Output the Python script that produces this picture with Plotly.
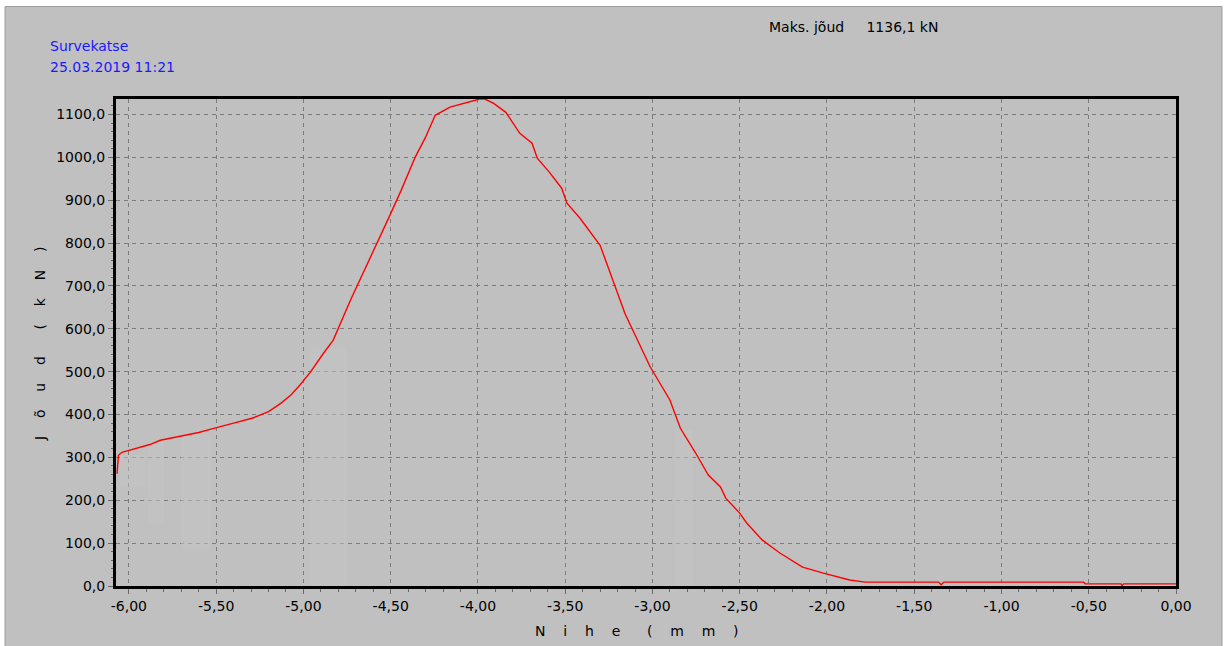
import plotly.graph_objects as go

# ---- data ----
nihe_mm = [-6.068, -6.065, -6.06, -6.04, -5.99, -5.94, -5.88, -5.82, -5.75, -5.69,
           -5.60, -5.53, -5.46, -5.40, -5.29, -5.20, -5.13, -5.07, -5.02, -4.96,
           -4.885, -4.83, -4.73, -4.62, -4.51, -4.44, -4.36, -4.30, -4.245, -4.16,
           -4.085, -4.03, -3.99, -3.96, -3.91, -3.84, -3.76, -3.69, -3.66, -3.59,
           -3.52, -3.49, -3.415, -3.30, -3.157, -3.014, -2.90, -2.84, -2.755, -2.68,
           -2.61, -2.58, -2.50, -2.46, -2.37, -2.27, -2.14, -2.02, -1.93, -1.87,
           -1.78, -1.36, -1.346, -1.33, -0.53, -0.52, -0.315, -0.309, -0.30, 0.0]
joud_kN = [262, 290, 305, 312, 318, 324, 330, 340, 346, 352,
           358, 366, 373, 380, 392, 407, 426, 446, 469, 499,
           543, 573, 667, 762, 860, 923, 1000, 1047, 1098, 1117,
           1126, 1131, 1136.1, 1136.1, 1126, 1105, 1056, 1033, 998, 965,
           928, 893, 858, 795, 635, 512, 434, 368, 312, 259,
           231, 205, 170, 147, 107, 77, 44, 30, 21, 14,
           9, 9, 3, 9, 9, 5, 5, 1, 5, 5]

# faint grey residue bands visible in the plot area
band_from = [-6.05, -5.89, -5.70, -4.96, -2.87]
band_to = [-5.90, -5.80, -5.53, -4.75, -2.77]
band_top = [305, 335, 355, 560, 365]
band_bottom = [230, 150, 85, 0, 0]

x_tickvals = [-6.0, -5.5, -5.0, -4.5, -4.0, -3.5, -3.0, -2.5, -2.0, -1.5, -1.0, -0.5, 0.0]
x_ticktext = ["-6,00", "-5,50", "-5,00", "-4,50", "-4,00", "-3,50", "-3,00",
              "-2,50", "-2,00", "-1,50", "-1,00", "-0,50", "0,00"]
y_tickvals = [0, 100, 200, 300, 400, 500, 600, 700, 800, 900, 1000, 1100]
y_ticktext = ["0,0", "100,0", "200,0", "300,0", "400,0", "500,0", "600,0",
              "700,0", "800,0", "900,0", "1000,0", "1100,0"]

max_force = 1136.1

FONT = "DejaVu Sans"
NB = "\u00a0"

fig = go.Figure()

fig.add_trace(go.Bar(
    x=[(a + b) / 2 for a, b in zip(band_from, band_to)],
    width=[b - a for a, b in zip(band_from, band_to)],
    y=[t - b for t, b in zip(band_top, band_bottom)],
    base=band_bottom,
    marker=dict(color="rgba(196,196,196,0.5)", line=dict(width=0)),
    hoverinfo="skip", showlegend=False,
))

fig.add_trace(go.Scatter(
    x=nihe_mm, y=joud_kN, mode="lines",
    line=dict(color="#ff0000", width=1.4),
    showlegend=False,
))

axis_common = dict(
    showline=True, linecolor="black", linewidth=3, mirror=True,
    showgrid=True, gridcolor="#7c7c7c", gridwidth=1, griddash="4px,4px",
    zeroline=False, ticks="outside", ticklen=5, tickcolor="#6a6a6a", tickwidth=1,
    tickfont=dict(family=FONT, size=14, color="black"),
    layer="below traces",
)

fig.update_xaxes(
    range=[-6.074, 0.0], tickmode="array", tickvals=x_tickvals, ticktext=x_ticktext,
    minor=dict(tickmode="linear", tick0=0, dtick=0.1, ticks="outside", ticklen=3,
               tickcolor="#6a6a6a", showgrid=False),
    **axis_common,
)
fig.update_yaxes(
    range=[0, max_force], tickmode="array", tickvals=y_tickvals, ticktext=y_ticktext,
    minor=dict(tickmode="linear", tick0=0, dtick=20, ticks="outside", ticklen=2,
               tickcolor="#6a6a6a", showgrid=False),
    **axis_common,
)

L, R, T, B = 116, 49, 99, 60
W, H = 1225, 646
pw, ph = W - L - R, H - T - B


def px_x(p):
    return (p - L) / pw


def px_y(p):
    return (H - B - p) / ph


fig.add_shape(type="rect", xref="paper", yref="paper",
              x0=px_x(5), x1=px_x(1222), y0=px_y(650), y1=px_y(6.5),
              fillcolor="#c0c0c0", line=dict(color="#9c9c9c", width=1), layer="below")

fig.add_annotation(xref="paper", yref="paper", x=px_x(48), y=px_y(46),
                   xanchor="left", yanchor="middle", showarrow=False,
                   text="Survekatse", font=dict(family=FONT, size=14, color="#1a1aff"))
fig.add_annotation(xref="paper", yref="paper", x=px_x(48), y=px_y(67),
                   xanchor="left", yanchor="middle", showarrow=False,
                   text="25.03.2019 11:21", font=dict(family=FONT, size=14, color="#1a1aff"))
fig.add_annotation(xref="paper", yref="paper", x=px_x(767), y=px_y(27),
                   xanchor="left", yanchor="middle", showarrow=False,
                   text="Maks. jõud" + NB * 5 + "1136,1 kN",
                   font=dict(family=FONT, size=14, color="black"))

sp = NB * 4
wsp = NB * 6
xtitle = sp.join("Nihe") + wsp + sp.join("(mm)")
ytitle = sp.join("Jõud") + wsp + sp.join("(kN)")
fig.add_annotation(xref="paper", yref="paper", x=px_x(637), y=px_y(631),
                   xanchor="center", yanchor="middle", showarrow=False,
                   text=xtitle, font=dict(family=FONT, size=14, color="black"))
fig.add_annotation(xref="paper", yref="paper", x=px_x(40), y=px_y(344),
                   xanchor="center", yanchor="middle", showarrow=False, textangle=-90,
                   text=ytitle, font=dict(family=FONT, size=14, color="black"))

fig.update_layout(
    width=W, height=H,
    margin=dict(l=L, r=R, t=T, b=B, pad=0),
    paper_bgcolor="white", plot_bgcolor="#afaeb5",
    bargap=0, barmode="overlay",
    showlegend=False,
    font=dict(family=FONT, size=14, color="black"),
)

fig.write_html("out.html")
